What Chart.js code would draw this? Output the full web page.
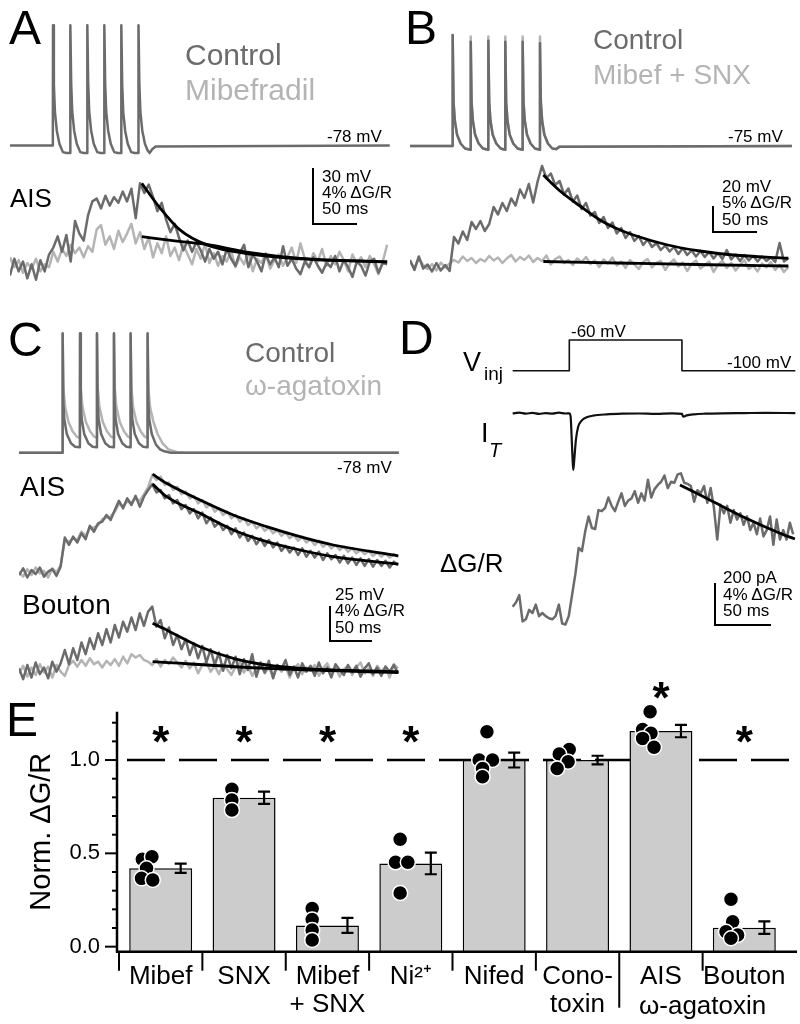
<!DOCTYPE html>
<html><head><meta charset="utf-8">
<title>T-type and P/Q-type calcium channels in AIS and boutons</title>
<script src="https://cdn.jsdelivr.net/npm/chart.js@4.4.1/dist/chart.umd.min.js"></script>
<style>
html,body{margin:0;padding:0;background:#fff}
body{position:relative;width:800px;height:1024px;overflow:hidden;font-family:"Liberation Sans",Arial,Helvetica,sans-serif;color:#000}
canvas{position:absolute}
.t{position:absolute;white-space:nowrap;line-height:1;z-index:2}
.sb{position:absolute;border-left:2px solid #000;border-bottom:2px solid #000;box-sizing:border-box;z-index:2}
.ctl{color:#6b6b6b}.drg{color:#b4b4b4}
</style></head><body>
<!-- Panel A -->
<div class="t" style="left:9px;top:4.4px;font-size:48px">A</div>
<div class="t ctl" style="left:185px;top:39.6px;font-size:30px">Control</div>
<div class="t drg" style="left:185px;top:74.6px;font-size:30px">Mibefradil</div>
<div class="t" style="left:327px;top:127.6px;font-size:17px">-78 mV</div>
<div class="t" style="left:10px;top:185px;font-size:26px">AIS</div>
<div class="t" style="left:322px;top:167.6px;font-size:17px">30 mV</div>
<div class="t" style="left:322px;top:183.6px;font-size:17px">4% ΔG/R</div>
<div class="t" style="left:322px;top:199.6px;font-size:17px">50 ms</div>
<div class="sb" style="left:312px;top:168px;width:45px;height:57px"></div>
<!-- Panel B -->
<div class="t" style="left:405px;top:4.4px;font-size:48px">B</div>
<div class="t ctl" style="left:593px;top:26.3px;font-size:28px">Control</div>
<div class="t drg" style="left:593px;top:61.3px;font-size:28px">Mibef + SNX</div>
<div class="t" style="left:728px;top:127.6px;font-size:17px">-75 mV</div>
<div class="t" style="left:722px;top:177.6px;font-size:17px">20 mV</div>
<div class="t" style="left:722px;top:194.1px;font-size:17px">5% ΔG/R</div>
<div class="t" style="left:722px;top:210.6px;font-size:17px">50 ms</div>
<div class="sb" style="left:712px;top:206px;width:45px;height:27px"></div>
<!-- Panel C -->
<div class="t" style="left:8px;top:316.4px;font-size:48px">C</div>
<div class="t ctl" style="left:245px;top:339.3px;font-size:28px">Control</div>
<div class="t drg" style="left:245px;top:372.3px;font-size:28px">ω-agatoxin</div>
<div class="t" style="left:337px;top:458.6px;font-size:17px">-78 mV</div>
<div class="t" style="left:20px;top:473.3px;font-size:28px">AIS</div>
<div class="t" style="left:22px;top:591.3px;font-size:28px">Bouton</div>
<div class="t" style="left:335px;top:585.6px;font-size:17px">25 mV</div>
<div class="t" style="left:335px;top:602.1px;font-size:17px">4% ΔG/R</div>
<div class="t" style="left:335px;top:618.6px;font-size:17px">50 ms</div>
<div class="sb" style="left:329px;top:606px;width:43px;height:36px"></div>
<!-- Panel D -->
<div class="t" style="left:399px;top:314.4px;font-size:48px">D</div>
<div class="t" style="left:463px;top:349.1px;font-size:27px">V</div>
<div class="t" style="left:484px;top:363.9px;font-size:19px">inj</div>
<div class="t" style="left:571px;top:322.6px;font-size:17px">-60 mV</div>
<div class="t" style="left:727px;top:353.6px;font-size:17px">-100 mV</div>
<div class="t" style="left:481px;top:420.1px;font-size:27px">I</div>
<div class="t" style="left:489px;top:440.1px;font-size:20px;font-style:italic">T</div>
<div class="t" style="left:440px;top:550px;font-size:26px">ΔG/R</div>
<div class="t" style="left:723px;top:568.6px;font-size:17px">200 pA</div>
<div class="t" style="left:723px;top:585.6px;font-size:17px">4% ΔG/R</div>
<div class="t" style="left:723px;top:601.6px;font-size:17px">50 ms</div>
<div class="sb" style="left:714px;top:583px;width:57px;height:43px"></div>
<!-- Panel E -->
<div class="t" style="left:6px;top:696.4px;font-size:48px">E</div>

<script>
// ---------------- DATA ----------------
// Panel A: somatic spikes (time ms, membrane potential mV)
const aSpikeT = [0,49.4,49.6,50.6,51.8,54.0,57.0,61.0,65.0,69.4,
  69.6,70.6,71.8,74.0,77.0,81.0,85.0,89.0,
  89.2,90.2,91.4,93.6,96.6,100.6,104.6,108.6,
  108.8,109.8,111.0,113.2,116.2,120.2,124.2,128.2,
  128.4,129.4,130.6,132.8,135.8,139.8,143.8,148.0,
  148.2,149.2,150.4,152.6,155.6,158.6,161.0,164.0,168.0,438];
const aSpikeV = [-78,-78,-13.5,-45,-60,-70,-77,-81.5,-82,-82,
  -13.5,-45,-60,-70,-77,-81.5,-82,-82,
  -13.5,-45,-60,-70,-77,-81.5,-82,-82,
  -13.5,-45,-60,-70,-77,-81.5,-82,-82,
  -13.5,-45,-60,-70,-77,-81.5,-82,-82,
  -13.5,-45,-60,-70,-77,-80.5,-82,-80,-78.5,-78];
// Panel A: AIS ΔG/R (%), sampled every 5 ms
const aCtrl = [-0.4,0.8,-0.1,0.6,-0.6,0.4,-0.7,0.7,-0.1,1.1,
  1.6,2.4,1.3,2.5,0.6,3.5,2.6,2.1,3.9,4.9,
  5.1,4.4,5.3,4.6,5.2,4.8,5.6,4.9,5.8,3.7,
  6.2,5.5,6.1,5.2,4.2,4.8,3.6,2.7,3.3,2.3,
  1.4,2.1,1.3,2.0,1.4,0.6,1.5,0.8,1.3,0.4,
  1.5,0.8,0.3,1.2,1.8,0.2,1.1,0.6,-0.1,1.1,
  0.4,0.9,0.2,1.7,0.3,0.8,0.1,-0.3,0.6,0.2,
  0.9,0.3,-0.2,0.5,0.2,1.0,-0.1,0.7,0.2,-0.5,
  0.6,0.3,-0.4,0.6,0.8,-0.2,0.5,0.4];
const aDrug = [0.9,0.2,0.7,-0.2,0.5,0.1,0.8,-0.1,0.4,0.2,
  1.3,0.6,1.5,1.0,1.8,1.2,1.6,0.9,1.7,1.3,
  2.9,3.2,1.8,2.4,1.5,2.8,2.0,2.6,3.3,1.9,
  2.7,1.5,2.3,0.9,1.9,1.2,2.4,1.0,1.6,0.7,
  1.8,1.1,0.4,1.5,0.8,1.9,0.5,1.2,0.3,1.0,
  0.6,1.4,0.2,0.9,0.4,1.3,-0.1,0.8,0.5,1.2,
  0.1,0.7,1.1,0.3,0.9,1.6,0.5,1.9,0.8,0.2,
  1.2,0.6,1.5,0.3,1.0,0.4,1.3,0.7,-0.1,1.1,
  0.5,0.9,0.2,1.0,0.4,-0.3,0.6,1.8];
const aFitCtrlT = [152,173,196,227,277,335,435];
const aFitCtrlV = [6.19,4.43,2.86,1.79,1.14,0.79,0.57];
const aFitDrugT = [152,190,227,277,335,435];
const aFitDrugV = [2.38,2.08,1.82,1.24,0.83,0.58];

// Panel B
const bSpikeT = [0,48.3,48.5,49.5,51.0,53.5,57.5,62.5,68.8,
  69.0,70.0,71.5,74.0,78.0,83.0,88.8,
  89.0,90.0,91.5,94.0,98.0,103.0,108.1,
  108.3,109.3,110.8,113.3,117.3,122.3,127.8,
  128.0,129.0,130.5,133.0,137.0,142.0,147.5,
  147.7,148.7,150.2,152.7,156.7,161.7,166.0,170.0,434];
const bSpikeV = [-75,-75,13.8,-40,-55,-66,-73,-77,-78,
  8.4,-40,-55,-66,-73,-77,-78,
  9.2,-40,-55,-66,-73,-77,-78,
  8.4,-40,-55,-66,-73,-77,-78,
  8.4,-40,-55,-66,-73,-77,-78,
  7.2,-40,-55,-66,-73,-77,-77.5,-75.5,-75];
const bSpikeDrugV = [-75,-75,13.8,-40,-55,-66,-73,-77,-78,
  12.6,-40,-55,-66,-73,-77,-78,
  12.6,-40,-55,-66,-73,-77,-78,
  12.6,-40,-55,-66,-73,-77,-78,
  12.6,-40,-55,-66,-73,-77,-78,
  12.6,-40,-55,-66,-73,-77,-77.5,-75.5,-75];
const bCtrl = [1.2,-0.8,1.9,-0.5,0.3,-1.1,0.6,-0.9,0.2,-1.0,
  5.8,4.5,6.9,5.2,8.8,7.4,9.0,7.0,8.4,11.8,
  10.3,12.6,11.0,13.5,12.1,15.3,13.6,16.4,12.7,16.9,
  20.0,17.6,18.5,16.2,17.0,14.3,15.5,12.9,14.1,11.4,
  12.6,10.1,10.8,8.6,9.8,7.6,8.7,6.5,7.6,5.6,
  6.8,5.0,6.0,4.2,5.3,3.8,4.6,3.2,4.1,2.9,
  3.8,2.4,3.6,2.2,3.1,1.9,3.0,1.8,2.8,1.5,
  2.6,1.4,3.2,1.3,2.3,1.0,2.2,1.1,2.0,0.9,
  1.9,1.0,1.7,0.8,4.6,0.9,1.6];
const bDrug = [0.8,-0.4,1.5,0.2,-0.6,0.4,-0.9,0.7,-0.3,0.5,
  1.2,0.7,1.9,1.0,1.6,0.6,1.4,0.9,2.0,1.1,
  1.7,0.6,1.5,2.2,0.9,1.8,1.2,2.1,0.8,1.6,
  1.0,2.1,0.3,1.4,1.9,0.6,1.2,0.2,1.5,0.8,
  1.8,0.4,1.1,-0.2,1.3,0.5,1.7,0.1,0.9,-0.4,
  1.2,0.3,-0.6,0.8,1.4,-0.3,0.6,1.0,-0.8,0.5,
  1.3,-0.1,0.7,-1.0,0.4,1.1,-0.5,0.2,0.9,-1.2,
  0.3,1.0,-0.4,0.6,-0.9,0.2,1.2,-0.6,0.1,-1.1,
  0.5,-0.3,0.8,-0.8,0.2,-1.2,-0.2];
const bFitCtrlT = [151.5,170.5,193.2,215.9,234.8,253.8,291.7,329.5,367.4,429.9];
const bFitCtrlV = [18.2,15.0,12.0,9.2,7.5,6.2,4.25,3.0,2.2,1.55];
const bFitDrugT = [151.5,250,340,430];
const bFitDrugV = [0.9,0.55,0.25,0.0];

// Panel C
const cSpikeT = [0,52.2,52.4,53.2,54.4,57.4,62.4,67.4,73.1,
  73.3,74.1,75.3,78.3,83.3,88.3,93.4,
  93.6,94.4,95.6,98.6,103.6,108.6,113.8,
  114.0,114.8,116.0,119.0,124.0,129.0,133.8,
  134.0,134.8,136.0,139.0,144.0,149.0,154.2,
  154.4,155.2,156.4,159.4,164.4,169.4,174.4,182.4,456];
const cSpikeV = [-78,-78,11.6,-40,-53,-64,-71,-73.5,-74,
  11.6,-40,-53,-64,-71,-73.5,-74,
  11.6,-40,-53,-64,-71,-73.5,-74,
  11.6,-40,-53,-64,-71,-73.5,-74,
  11.6,-40,-53,-64,-71,-73.5,-74,
  11.6,-40,-53,-64,-72,-75.5,-77,-78,-78];
const cSpikeDrugT = [0,52.2,52.4,53.4,55.4,59.4,64.4,69.4,73.1,
  73.3,74.3,76.3,80.3,85.3,90.3,93.4,
  93.6,94.6,96.6,100.6,105.6,110.6,113.8,
  114.0,115.0,117.0,121.0,126.0,131.0,133.8,
  134.0,135.0,137.0,141.0,146.0,151.0,154.2,
  154.4,155.4,157.4,161.4,166.4,172.4,179.4,189.4,199.4,456];
const cSpikeDrugV = [-78,-78,11.0,-30,-44,-55,-62,-66,-67,
  11.0,-30,-44,-55,-62,-66,-67,
  11.0,-30,-44,-55,-62,-66,-67,
  11.0,-30,-44,-55,-62,-66,-67,
  11.0,-30,-44,-55,-62,-66,-67,
  11.0,-30,-44,-55,-64,-71,-75.5,-77.5,-78,-78];
const cAisCtrl = [-0.6,0.2,-0.9,0.0,-0.5,0.3,-0.8,-0.2,0.1,-0.7,
  0.4,3.9,3.0,4.0,3.3,4.4,3.7,5.3,4.6,5.6,
  5.8,6.6,6.0,7.2,8.3,7.4,8.6,7.8,8.9,7.6,
  8.8,9.6,10.3,9.3,9.6,8.6,9.0,8.0,8.4,7.3,
  7.8,6.8,7.3,6.2,6.9,5.6,6.3,5.2,5.7,4.8,
  5.3,4.3,5.0,3.9,4.5,3.5,4.1,3.1,3.8,2.9,
  3.6,2.7,3.3,2.3,2.9,2.1,2.7,1.8,2.6,1.6,
  2.3,1.5,2.2,1.2,2.0,1.3,1.8,0.9,1.7,0.8,
  1.5,0.6,1.4,0.5,1.3,0.4,1.2,0.5,1.1,0.3,
  1.0,0.6];
const cAisDrug = [-0.3,-0.8,0.1,-0.6,0.3,-0.4,-0.1,-0.9,0.2,-0.3,
  0.6,3.6,3.4,3.8,3.6,4.6,4.1,5.0,5.1,5.4,
  6.1,6.3,6.4,7.0,7.9,7.7,8.2,8.1,8.6,8.3,
  9.1,9.9,11.4,10.8,11.2,10.2,10.5,9.6,10.0,9.1,
  9.4,8.6,8.9,8.0,8.4,7.5,7.9,7.0,7.4,6.6,
  7.0,6.2,6.6,5.8,6.2,5.4,5.8,5.0,5.4,4.7,
  5.1,4.4,4.8,4.1,4.5,3.8,4.2,3.5,4.0,3.3,
  3.7,3.0,3.5,2.8,3.2,2.6,3.0,2.4,2.8,2.2,
  2.6,2.0,2.4,1.9,2.3,1.7,2.1,1.6,2.0,1.5,
  1.9,1.6];
const cAisFitT = [160.4,177.2,217.2,257.2,297.3,337.3,377.3,455.4];
const cAisFitDrugV = [11.5,10.4,8.4,6.6,5.2,4.0,3.0,1.7];
const cAisFitCtrlV = [10.3,8.8,6.8,4.8,3.4,2.4,1.6,0.7];
const cBtnCtrl = [0.2,-1.1,0.6,-0.9,0.9,-0.5,0.3,-1.0,1.0,-0.2,
  0.8,2.4,0.7,2.6,1.2,3.3,1.9,3.8,2.5,4.4,
  3.0,4.9,3.3,5.4,3.9,5.8,4.6,6.3,4.8,6.8,
  5.3,7.0,7.6,5.2,6.0,3.8,5.1,3.0,4.2,2.5,
  3.7,1.8,3.2,1.4,2.9,0.9,2.5,0.6,2.1,-0.1,
  1.8,0.2,1.6,-0.5,1.3,0.0,1.9,-0.8,0.9,-0.3,
  1.1,-1.0,0.6,0.1,1.2,-0.6,0.4,-0.9,0.8,-0.2,
  0.5,-0.7,0.9,-0.4,0.3,-0.9,0.7,0.0,-0.6,0.6,
  -0.3,0.5,-0.8,0.2,0.8,-0.5,0.3,-0.7,0.4,-0.2,
  0.6,-0.4];
const cBtnDrug = [-0.4,0.5,-0.8,0.3,-0.6,0.7,-0.3,0.4,-0.9,0.6,
  -0.2,-0.7,0.6,1.1,0.4,1.2,0.5,1.4,0.7,1.0,
  0.3,1.1,0.6,1.3,0.5,1.6,0.8,1.9,1.5,1.8,
  1.2,1.0,0.6,1.3,0.4,1.2,0.7,1.5,0.9,0.3,
  1.1,0.2,0.9,-0.4,0.6,1.0,-0.2,0.5,-0.5,0.7,
  0.1,-0.6,0.4,0.9,-0.3,0.5,-0.7,0.2,0.8,-0.4,
  0.3,-0.8,0.6,-0.2,0.4,-0.9,0.2,0.7,-0.5,0.3,
  -0.1,0.6,-0.7,0.2,0.8,-0.3,0.4,-0.8,0.1,0.5,
  -0.6,0.3,0.9,-0.4,0.2,-0.7,0.5,-0.2,0.4,-0.9,
  0.7,0.2];
const cBtnFitCtrlT = [160.4,177.2,217.2,257.2,297.3,337.3,455.4];
const cBtnFitCtrlV = [5.6,4.8,2.8,1.4,0.6,0.2,-0.2];
const cBtnFitDrugT = [160.4,297.3,455.4];
const cBtnFitDrugV = [1.0,0.2,-0.3];

// Panel D
const vinjT = [0,51.5,51.5,153.9,153.9,257];
const vinjV = [-100,-100,-60,-60,-100,-100];
const iTT = [0,6,12,18,24,30,36,42,48,51.5,52.7,53.6,54.5,55.1,56.0,57.5,59.6,62.7,67.3,73.3,85.5,100,115,130,145,153.9,155.1,158.2,165,175,190,210,230,257];
const iTV = [0,3,-2,2,-3,1,-2,3,-1,0,-16,-111,-222,-270,-222,-127,-63,-35,-19,-11,-5,-2,-1,-3,0,-3,-16,-10,-5,-2,0,1,2,1];
const dDgr = [0.6,1.0,1.7,-0.8,-0.6,0.3,0.0,0.8,-0.3,0.0,
  -0.3,-0.5,-0.6,-0.3,0.8,-1.0,-1.1,-0.3,1.7,3.7,
  6.2,5.9,7.8,9.2,8.1,8.0,9.8,9.7,10.0,11.0,
  10.2,9.7,10.6,11.4,10.2,10.7,10.9,11.6,10.5,11.4,
  10.7,12.7,11.0,11.8,12.2,12.5,13.1,11.9,12.5,12.4,
  13.2,13.3,12.4,12.3,12.1,10.6,11.7,11.4,12.1,10.5,
  11.9,10.0,7.0,10.3,9.5,10.2,8.6,9.8,8.9,9.5,
  8.4,9.2,7.9,8.6,7.5,9.0,7.3,7.9,9.2,6.5,
  8.9,7.0,7.9,7.0,8.6,7.5];
const dFitT = [152.1,182.4,212.7,243,256.6];
const dFitV = [12.2,10.6,9.0,7.6,7.05];

// Panel E
const categories = [["Mibef"],["SNX"],["Mibef","+ SNX"],["Ni²⁺"],["Nifed"],["Cono-","toxin"],["AIS"],["Bouton"]];
const sharedLabel = "ω-agatoxin";
const meanValues = [0.42,0.798,0.114,0.446,1.0,1.0,1.155,0.102];
const semValues  = [0.025,0.033,0.04,0.058,0.04,0.023,0.033,0.034];
const starLevels = [1.15,1.15,1.15,1.15,null,null,1.385,1.15];
const dotCat    = [0,0,0,0,0, 1,1,1, 2,2,2,2, 3,3,3,3, 4,4,4,4,4, 5,5,5,5, 6,6,6,6,6, 7,7,7,7,7];
const dotJitter = [-0.22,-0.105,-0.17,-0.23,-0.095, -0.146,-0.146,-0.146, -0.183,-0.183,-0.183,-0.183, -0.128,-0.183,-0.036,-0.128, -0.087,-0.18,-0.02,-0.14,-0.14, -0.1,-0.22,-0.113,-0.245, -0.13,-0.22,-0.12,-0.22,-0.083, -0.16,-0.14,-0.22,-0.08,-0.16];
const dotValue  = [0.468,0.482,0.42,0.366,0.357, 0.843,0.786,0.732, 0.205,0.146,0.089,0.036, 0.575,0.452,0.452,0.287, 1.152,1.0,1.0,0.955,0.91, 1.057,1.032,0.991,0.955, 1.259,1.164,1.143,1.116,1.068, 0.254,0.134,0.08,0.062,0.045];
const REF_LEVEL = 1.0;

// ---------------- STYLE ----------------
const CTRL = '#6b6b6b', DRUG = '#b4b4b4', FIT = '#000000';
Chart.defaults.font.family = '"Liberation Sans", Arial, Helvetica, sans-serif';
Chart.defaults.color = '#000';

// ---------------- HELPERS ----------------
const even = (t0, dt, vals) => vals.map((v, i) => ({x: t0 + i * dt, y: v}));
const pairs = (ts, vs) => ts.map((t, i) => ({x: t, y: vs[i]}));
const ds = (data, color, w, smooth) => ({
  data, borderColor: color, borderWidth: w, fill: false, pointRadius: 0,
  tension: 0, cubicInterpolationMode: smooth ? 'monotone' : 'default',
  borderJoinStyle: 'round', borderCapStyle: 'butt'
});
function makeCanvas(box) {
  const cv = document.createElement('canvas');
  cv.width = box.w; cv.height = box.h;
  cv.style.left = box.x + 'px'; cv.style.top = box.y + 'px';
  cv.style.width = box.w + 'px'; cv.style.height = box.h + 'px';
  document.body.appendChild(cv);
  return cv;
}
// datasets are listed top-most first (Chart.js paints the first dataset last)
function traceChart(box, xr, yr, sets) {
  return new Chart(makeCanvas(box), {
    type: 'line',
    data: {datasets: sets},
    options: {
      responsive: false, animation: false, events: [],
      layout: {padding: 0},
      plugins: {legend: {display: false}, tooltip: {enabled: false}},
      elements: {point: {radius: 0}},
      scales: {
        x: {type: 'linear', display: false, min: xr[0], max: xr[1]},
        y: {type: 'linear', display: false, min: yr[0], max: yr[1]}
      }
    }
  });
}

// ---------------- TRACES ----------------
// A
traceChart({x:10,y:0,w:380,h:165}, [0,438.3], [-88.4,0], [
  ds(pairs(aSpikeT, aSpikeV), CTRL, 2.5)
]);
traceChart({x:10,y:165,w:380,h:130}, [0,438.3], [-1.79,7.5], [
  ds(pairs(aFitCtrlT, aFitCtrlV), FIT, 2.8, true),
  ds(pairs(aFitDrugT, aFitDrugV), FIT, 2.8, true),
  ds(even(0,5,aCtrl), CTRL, 2.5),
  ds(even(0,5,aDrug), DRUG, 2.5)
]);
// B
traceChart({x:410,y:0,w:382,h:165}, [0,434.1], [-90.2,41.8], [
  ds(pairs(bSpikeT, bSpikeV), CTRL, 2.5),
  ds(pairs(bSpikeT, bSpikeDrugV), DRUG, 2.5)
]);
traceChart({x:410,y:160,w:382,h:130}, [0,434.1], [-4.8,21.2], [
  ds(pairs(bFitCtrlT, bFitCtrlV), FIT, 2.8, true),
  ds(pairs(bFitDrugT, bFitDrugV), FIT, 2.8, true),
  ds(even(0,5,bCtrl), CTRL, 2.5),
  ds(even(0,5,bDrug), DRUG, 2.5)
]);
// C
traceChart({x:19,y:320,w:380,h:140}, [0,456.2], [-83.5,21.5], [
  ds(pairs(cSpikeT, cSpikeV), CTRL, 2.5),
  ds(pairs(cSpikeDrugT, cSpikeDrugV), DRUG, 2.5)
]);
traceChart({x:19,y:470,w:380,h:110}, [0,456.2], [-1.2,12.0], [
  ds(pairs(cAisFitT, cAisFitDrugV), FIT, 2.8, true),
  ds(pairs(cAisFitT, cAisFitCtrlV), FIT, 2.8, true),
  ds(even(0,5,cAisCtrl), CTRL, 2.5),
  ds(even(0,5,cAisDrug), DRUG, 2.5)
]);
traceChart({x:19,y:590,w:380,h:100}, [0,456.2], [-2.4,9.6], [
  ds(pairs(cBtnFitCtrlT, cBtnFitCtrlV), FIT, 2.8, true),
  ds(pairs(cBtnFitDrugT, cBtnFitDrugV), FIT, 2.8, true),
  ds(even(0,5,cBtnCtrl), CTRL, 2.5),
  ds(even(0,5,cBtnDrug), DRUG, 2.5)
]);
// D
traceChart({x:512,y:330,w:285,h:50}, [-0.6,258.5], [-112.1,-47], [
  ds(pairs(vinjT, vinjV), '#111', 1.6)
]);
traceChart({x:512,y:395,w:285,h:85}, [-0.6,258.5], [-317.6,87.1], [
  ds(pairs(iTT, iTV), '#111', 2.2, true)
]);
traceChart({x:512,y:470,w:285,h:170}, [-0.6,258.5], [-2.57,13.62], [
  ds(pairs(dFitT, dFitV), FIT, 2.8, true),
  ds(even(0,3,dDgr), CTRL, 2.5)
]);

// ---------------- PANEL E ----------------
const Y_MIN = -0.027, Y_MAX = 1.259, ERR_SHIFT = 0.24;
const ePlugin = {
  id: 'eDecor',
  beforeDatasetsDraw(chart) {
    const {ctx, chartArea: a, scales: {y}} = chart;
    const yy = y.getPixelForValue(REF_LEVEL);
    ctx.save();
    ctx.strokeStyle = '#000'; ctx.lineWidth = 2.6; ctx.setLineDash([38, 14]);
    ctx.beginPath(); ctx.moveTo(a.left + 8, yy); ctx.lineTo(a.right + 11, yy); ctx.stroke();
    ctx.restore();
  },
  afterDatasetsDraw(chart) {
    const {ctx, chartArea: a, scales: {y, xd}} = chart;
    ctx.save();
    ctx.strokeStyle = '#000'; ctx.fillStyle = '#000';
    // error bars
    ctx.lineWidth = 2.2;
    meanValues.forEach((m, i) => {
      const x = xd.getPixelForValue(i + ERR_SHIFT);
      const y1 = y.getPixelForValue(m - semValues[i]);
      const y2 = y.getPixelForValue(m + semValues[i]);
      ctx.beginPath();
      ctx.moveTo(x, y1); ctx.lineTo(x, y2);
      ctx.moveTo(x - 6, y1); ctx.lineTo(x + 6, y1);
      ctx.moveTo(x - 6, y2); ctx.lineTo(x + 6, y2);
      ctx.stroke();
    });
    // axes
    const ax = a.left - 2;
    ctx.lineWidth = 2.5;
    ctx.beginPath();
    ctx.moveTo(ax, a.top); ctx.lineTo(ax, a.bottom);
    ctx.moveTo(ax - 1.2, a.bottom); ctx.lineTo(a.right + 11, a.bottom);
    ctx.stroke();
    ctx.lineWidth = 2;
    for (let k = 0; k <= 12; k++) {
      const py = y.getPixelForValue(k / 10);
      ctx.beginPath(); ctx.moveTo(ax, py); ctx.lineTo(ax - (k % 5 === 0 ? 12 : 5), py); ctx.stroke();
    }
    // category separators
    for (let i = 0; i < meanValues.length; i++) {
      const px = xd.getPixelForValue(i - 0.5);
      ctx.beginPath(); ctx.moveTo(px, a.bottom); ctx.lineTo(px, a.bottom + (i === 6 ? 56 : 19)); ctx.stroke();
    }
    // shared second label line
    ctx.font = '26px "Liberation Sans", Arial, sans-serif';
    ctx.textAlign = 'center'; ctx.textBaseline = 'alphabetic';
    ctx.fillText(sharedLabel, (xd.getPixelForValue(6) + xd.getPixelForValue(7)) / 2, a.bottom + 62);
    // significance stars
    ctx.font = 'bold 44px "Liberation Sans", Arial, sans-serif';
    starLevels.forEach((s, i) => {
      if (s === null) return;
      ctx.fillText('*', xd.getPixelForValue(i), y.getPixelForValue(s) + 24.6);
    });
    ctx.restore();
  }
};

new Chart(makeCanvas({x:0,y:668,w:800,h:356}), {
  type: 'bar',
  data: {
    labels: categories,
    datasets: [
      {type: 'scatter', data: dotValue.map((v, i) => ({x: dotCat[i] + dotJitter[i], y: v})),
       xAxisID: 'xd', yAxisID: 'y', order: 0, clip: false,
       pointRadius: 7.5, pointHoverRadius: 7.5, pointBackgroundColor: '#000',
       pointBorderColor: '#fff', pointBorderWidth: 1.5},
      {type: 'bar', data: meanValues, xAxisID: 'x', yAxisID: 'y', order: 1, grouped: false,
       backgroundColor: '#cccccc', borderColor: '#000', borderWidth: 1.5,
       base: Y_MIN, barPercentage: 0.755, categoryPercentage: 1}
    ]
  },
  options: {
    responsive: false, animation: false, events: [],
    layout: {padding: {top: 43.7, right: 14, left: 0, bottom: 0}},
    plugins: {legend: {display: false}, tooltip: {enabled: false}},
    scales: {
      x: {type: 'category', position: 'bottom', offset: true,
          grid: {display: false, drawTicks: false}, border: {display: false},
          ticks: {color: '#000', font: {size: 26, lineHeight: 1.08}, padding: 11,
                  maxRotation: 0, minRotation: 0, autoSkip: false},
          afterFit(s) { s.height = 72.3; }},
      xd: {type: 'linear', position: 'bottom', display: false, offset: false,
           grid: {offset: false}, bounds: 'data', min: -0.5, max: 7.5},
      y: {type: 'linear', position: 'left', min: Y_MIN, max: Y_MAX,
          grid: {display: false, drawTicks: false}, border: {display: false},
          ticks: {stepSize: 0.5, includeBounds: false, autoSkip: false, color: '#000',
                  font: {size: 22}, padding: 19, callback: v => v.toFixed(1)},
          title: {display: true, text: 'Norm. ΔG/R', color: '#000', font: {size: 29},
                  padding: {top: 25, bottom: 0}},
          afterFit(s) { s.width = 119; }}
    }
  },
  plugins: [ePlugin]
});
</script>
</body></html>
